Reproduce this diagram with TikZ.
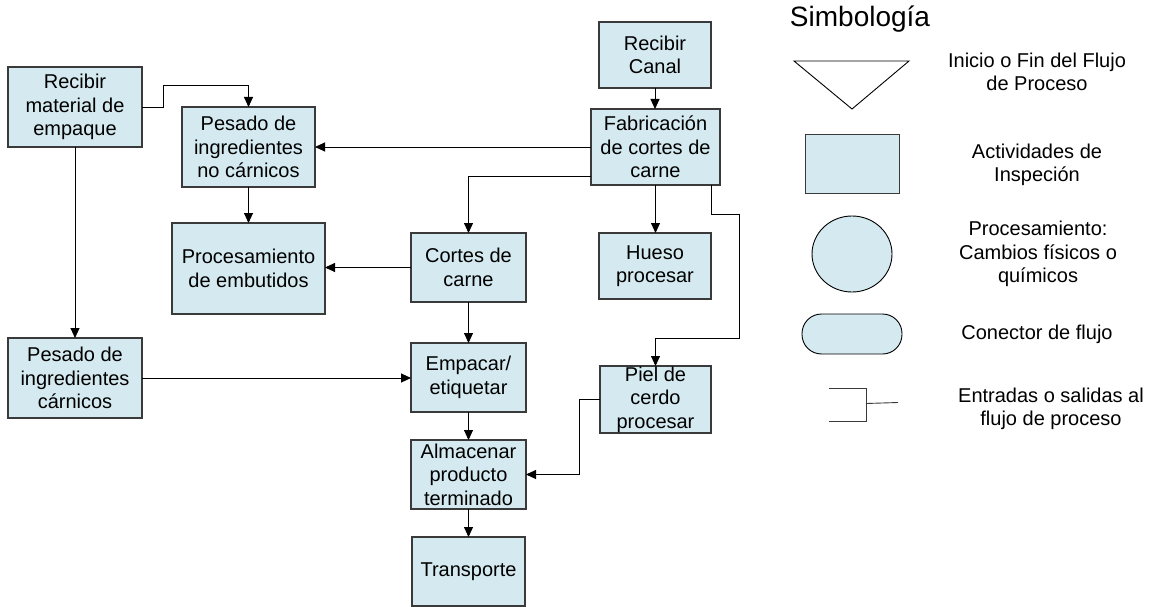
\documentclass[tikz,border=0pt]{standalone}
\usepackage{fontspec}
\setmainfont{Liberation Sans}
\usetikzlibrary{arrows.meta,calc}
\definecolor{boxblue}{HTML}{D4EAF0}
\definecolor{boxline}{HTML}{3A3A3A}
\tikzset{
  pbox/.style={draw=boxline, fill=boxblue, line width=1.1pt, inner sep=0pt, outer sep=0pt,
    align=center, font=\fontsize{20}{23.5}\selectfont},
  arr/.style={draw=black, line width=0.9pt, -{Triangle[length=10pt,width=9pt]}},
  legtxt/.style={align=center, font=\fontsize{20}{23.5}\selectfont, inner sep=0pt},
  legshape/.style={draw=black, line width=0.9pt},
}
% box from pixel corners: name, x1, y1, x2, y2, text
\newcommand{\pbx}[6]{%
  \node[pbox, minimum width={(#4)-(#2)}, minimum height={(#5)-(#3)}] (#1)
    at ({((#2)+(#4))/2},{((#3)+(#5))/2}) {#6};}
\begin{document}
\begin{tikzpicture}[x=1pt,y=-1pt]
\useasboundingbox (0,0) rectangle (1158,607);
% process boxes
\pbx{recmat}{8}{67}{142}{147}{Recibir\\material de\\empaque}
\pbx{pnc}{182}{107}{315}{187}{Pesado de\\ingredientes\\no cárnicos}
\pbx{canal}{599}{22}{711}{88}{Recibir\\Canal}
\pbx{fab}{591}{109}{720}{185}{Fabricación\\de cortes de\\carne}
\pbx{proc}{172}{223}{325}{314}{Procesamiento\\de embutidos}
\pbx{cortes}{411}{233}{526}{302}{Cortes de\\carne}
\pbx{hueso}{599}{233}{711}{299}{Hueso\\procesar}
\pbx{pc}{8}{338}{142}{418}{Pesado de\\ingredientes\\cárnicos}
\pbx{emp}{411}{343}{526}{412}{Empacar/\\etiquetar}
\pbx{piel}{600}{366}{711}{433}{Piel de\\cerdo\\procesar}
\pbx{alm}{411}{440}{526}{509}{Almacenar\\producto\\terminado}
\pbx{trans}{412}{537}{525}{606}{Transporte}
% bend points
\coordinate (j1) at (163,85);
\coordinate (k1) at (739,214);
\coordinate (k2) at (739,338);
\coordinate (p1) at (579,399.5);
% connectors
\draw[arr] (recmat.east) -| (j1) -| (pnc.north);
\draw[arr] (fab.west) -- (pnc.east);
\draw[arr] (canal.south) -- (canal.south |- fab.north);
\draw[arr] ($(fab.south west)+(0,-9)$) -| (cortes.north);
\draw[arr] (fab.south) -- (fab.south |- hueso.north);
\draw[arr] ($(fab.south east)+(-9,0)$) |- (k1) -- (k2) -| (piel.north);
\draw[arr] (pnc.south) -- (pnc.south |- proc.north);
\draw[arr] (cortes.west) -- (cortes.west -| proc.east);
\draw[arr] (recmat.south) -- (recmat.south |- pc.north);
\draw[arr] (pc.east) -- (pc.east -| emp.west);
\draw[arr] (cortes.south) -- (emp.north);
\draw[arr] (emp.south) -- (alm.north);
\draw[arr] (piel.west) -- (p1) |- (alm.east);
\draw[arr] (alm.south) -- (trans.north);
% legend
\node[inner sep=0pt, font=\fontsize{28}{32}\selectfont] (ltitle) at (860,19) {Simbología};
\draw[legshape] (794,61) -- (909,61) -- (852,109) -- cycle;
\node[legtxt] (l1) at (1037,72) {Inicio o Fin del Flujo\\de Proceso};
\draw[draw=boxline, fill=boxblue, line width=0.9pt] (805,134) rectangle (899,193);
\node[legtxt] (l2) at (1037,165) {Actividades de\\Inspeción};
\draw[legshape, fill=boxblue] (852,254) ellipse [x radius=40, y radius=38];
\node[legtxt] (l3) at (1038,254) {Procesamiento:\\Cambios físicos o\\químicos};
\draw[legshape, fill=boxblue, rounded corners=19.5pt] (802,314) rectangle (902,354);
\node[legtxt] (l4) at (1037,334) {Conector de flujo};
\draw[draw=boxline, line width=0.9pt] (829,388) -- (866,388) -- (866,421) -- (829,421);
\draw[draw=boxline, line width=0.9pt] (866,403.5) -- (898,402.5);
\node[legtxt] (l5) at (1051,409) {Entradas o salidas al\\flujo de proceso};
\end{tikzpicture}
\end{document}
